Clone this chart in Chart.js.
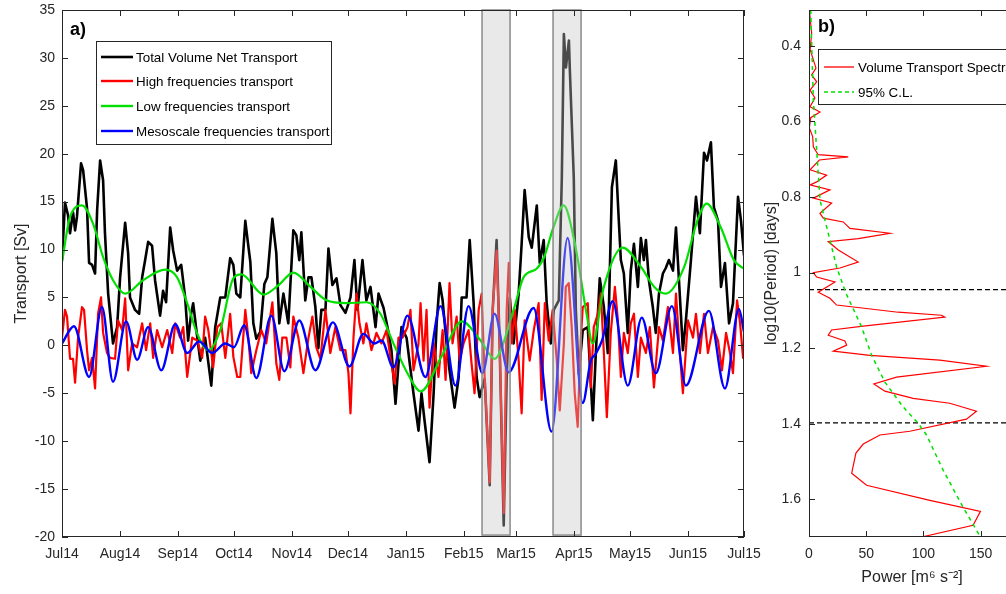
<!DOCTYPE html>
<html>
<head>
<meta charset="utf-8">
<script src="https://cdn.jsdelivr.net/npm/chart.js@4.4.1/dist/chart.umd.min.js"></script>
<style>
  body { margin: 0; background: #fff; overflow: hidden; font-family: "Liberation Sans", Arial, sans-serif; }
  #page { position: relative; width: 1006px; height: 594px; overflow: hidden; background: #fff; }
  .wrap { position: absolute; top: 0; height: 594px; }
  #wrapA { left: 0; width: 780px; }
  #wrapB { left: 750px; width: 290px; }
  .legend { position: absolute; background: #fff; border: 1px solid #262626; font-size: 13.4px; color: #000; z-index: 5; }
  .legend .row { position: absolute; left: 0; height: 20px; display: flex; align-items: center; white-space: nowrap; }
  .legend svg { display: block; }
  .tag { position: absolute; font-weight: bold; font-size: 18px; line-height: 18px; color: #000; z-index: 5; }
</style>
</head>
<body>
<div id="page">
  <div class="wrap" id="wrapA"><canvas id="chartA"></canvas></div>
  <div class="wrap" id="wrapB"><canvas id="chartB"></canvas></div>

  <div class="tag" style="left:70px; top:20px;">a)</div>
  <div class="tag" style="left:818px; top:17px;">b)</div>

  <div class="legend" style="left:96px; top:41px; width:234px; height:102px;">
    <div class="row" style="top:5px;"><svg width="36" height="6" style="margin-left:3px"><line x1="1" y1="3" x2="33" y2="3" stroke="#000" stroke-width="2.6"/></svg>Total Volume Net Transport</div>
    <div class="row" style="top:29px;"><svg width="36" height="6" style="margin-left:3px"><line x1="1" y1="3" x2="33" y2="3" stroke="#ff0000" stroke-width="2.4"/></svg>High frequencies transport</div>
    <div class="row" style="top:54px;"><svg width="36" height="6" style="margin-left:3px"><line x1="1" y1="3" x2="33" y2="3" stroke="#00e000" stroke-width="2.4"/></svg>Low frequencies transport</div>
    <div class="row" style="top:79px;"><svg width="36" height="6" style="margin-left:3px"><line x1="1" y1="3" x2="33" y2="3" stroke="#0000ff" stroke-width="2.4"/></svg>Mesoscale frequencies transport</div>
  </div>

  <div class="legend" style="left:818px; top:49px; width:230px; height:54px;">
    <div class="row" style="top:7px;"><svg width="35" height="6" style="margin-left:4px"><line x1="1" y1="3" x2="31" y2="3" stroke="#ff0000" stroke-width="1.3"/></svg>Volume Transport Spectra</div>
    <div class="row" style="top:32px;"><svg width="35" height="6" style="margin-left:4px"><line x1="1" y1="3" x2="31" y2="3" stroke="#00e000" stroke-width="1.5" stroke-dasharray="4 3"/></svg>95% C.L.</div>
  </div>
</div>

<script>
// dias contados a partir de 1 Jul 2014
const monthTicks = [0, 31, 62, 92, 123, 153, 184, 215, 243, 274, 304, 335, 365];
const monthLabels = ['Jul14', 'Aug14', 'Sep14', 'Oct14', 'Nov14', 'Dec14', 'Jan15', 'Feb15', 'Mar15', 'Apr15', 'May15', 'Jun15', 'Jul15'];

// janelas sombreadas (dias)
const eventStart = [224.8, 262.8];
const eventEnd = [239.8, 277.8];

// [dia, Sv]
const totalTransport = [[0,8.9],[1.6,14.9],[3.2,13.6],[4.3,11.7],[5.9,13.9],[7.0,12.0],[8.0,13.4],[10.2,19.0],[11.3,18.3],[13.4,14.3],[14.5,8.6],[16.1,8.4],[17.7,7.5],[18.8,14.1],[20.4,19.3],[22.0,17.2],[23.0,11.7],[24.7,5.4],[27.3,0.2],[29.5,1.9],[31.1,7.1],[33.8,12.8],[35.4,9.6],[36.4,5.0],[39.1,3.7],[41.3,3.3],[42.9,7.1],[44.5,8.9],[46.1,10.8],[48.2,10.4],[49.8,6.8],[52.5,3.1],[54.1,5.7],[55.7,4.5],[57.9,12.3],[59.5,9.9],[61.6,7.8],[63.8,8.4],[65.9,5.0],[67.5,0.5],[69.1,3.3],[70.2,4.4],[72.4,0.8],[74.0,-1.6],[76.6,0.8],[79.9,-4.2],[82.0,1.9],[84.7,5.0],[87.4,5.0],[90.0,9.1],[91.7,8.4],[93.3,5.4],[95.4,5.0],[98.1,13.0],[99.7,10.4],[100.8,8.7],[102.4,2.3],[104.0,0.7],[106.1,1.4],[108.3,6.4],[109.9,7.1],[112.6,13.2],[114.7,9.6],[116.3,2.3],[118.5,5.4],[121.1,2.3],[123.8,12.0],[125.4,11.5],[127.0,8.9],[128.1,11.8],[130.2,4.7],[131.9,7.1],[133.5,7.1],[135.6,4.0],[137.2,-0.3],[138.8,3.7],[141.0,3.7],[142.6,10.1],[144.7,6.3],[146.9,7.0],[149.0,4.2],[151.7,3.4],[154.4,5.0],[156.5,8.9],[158.1,3.7],[160.8,8.9],[162.9,4.7],[165.1,6.1],[167.8,1.9],[169.4,5.4],[172.1,3.9],[174.7,1.4],[176.3,-0.5],[178.5,-6.1],[180.1,-1.9],[181.7,1.9],[184.4,0.8],[188.1,-5.0],[190.8,-8.9],[192.4,-5.0],[194.0,-7.8],[196.7,-12.2],[198.9,-5.0],[200.5,2.3],[202.1,6.5],[203.7,4.7],[205.8,0.2],[207.4,-2.6],[210.1,-6.5],[212.3,-3.3],[213.9,5.0],[216.5,5.0],[218.2,11.0],[220.3,4.4],[221.9,-3.3],[223.5,-5.4],[226.2,-3.5],[228.9,-14.6],[230.5,3.7],[232.6,11.0],[234.2,0.2],[236.4,-18.8],[238.0,-3.3],[239.6,5.0],[241.7,0.2],[244.4,5.4],[246.0,10.6],[247.6,16.2],[249.8,11.3],[251.4,10.2],[254.1,14.6],[255.7,8.6],[257.8,11.0],[259.4,4.4],[261.6,0.2],[263.2,3.7],[265.9,4.7],[267.5,17.5],[268.6,32.5],[269.7,29.0],[271.3,31.8],[271.8,28.7],[273.9,17.5],[275.0,3.7],[276.6,-3.0],[278.7,1.6],[281.4,1.9],[284.1,-7.8],[285.7,-0.8],[287.8,7.0],[290.0,4.0],[292.1,-0.8],[294.3,16.5],[296.4,19.3],[298.0,13.0],[299.1,8.9],[300.7,7.5],[302.8,1.3],[304.4,7.8],[306.1,10.6],[308.2,6.1],[309.8,11.2],[311.4,8.9],[312.5,11.0],[314.1,6.8],[316.2,4.0],[317.8,1.3],[319.5,5.4],[321.6,7.5],[323.2,8.1],[324.8,8.9],[327.0,7.8],[328.6,12.3],[330.2,6.8],[332.3,-0.5],[333.9,2.6],[336.6,8.9],[339.3,15.5],[341.4,11.7],[343.6,20.1],[345.2,19.3],[347.3,21.2],[348.9,14.4],[351.1,13.0],[352.7,6.1],[354.8,8.6],[357.0,2.3],[359.1,4.4],[361.8,15.5],[363.4,13.0],[365.0,9.4]];

const highFreq = [[0,0.8],[1.6,3.7],[2.7,3.0],[4.3,-1.4],[5.9,-1.4],[7.0,-3.9],[8.6,0.8],[10.7,4.0],[11.8,3.7],[13.4,-0.5],[14.5,-2.6],[16.1,-1.3],[17.7,-4.5],[19.3,3.3],[20.9,5.0],[22.0,1.3],[24.1,-0.8],[25.7,-1.3],[28.4,-1.4],[30.0,2.6],[32.2,1.6],[33.8,4.9],[35.4,-2.6],[37.5,0.2],[40.2,-0.2],[42.9,2.3],[45.0,-0.5],[47.2,2.3],[48.8,-1.3],[50.9,1.6],[53.6,-0.2],[56.3,1.6],[59.0,-0.8],[60.6,2.3],[63.2,0.8],[64.9,1.9],[67.0,-3.3],[69.7,0.8],[72.4,0.5],[75.0,-1.3],[76.6,3.0],[78.3,1.6],[80.9,-2.3],[83.1,1.9],[85.2,2.3],[87.4,-1.3],[90.0,3.3],[91.7,-1.2],[93.8,-3.3],[95.4,-3.3],[98.1,3.7],[99.7,0.8],[101.3,-2.9],[104.0,-0.5],[106.7,1.6],[109.3,0.2],[112.6,4.5],[114.7,-1.9],[116.3,-3.6],[117.9,0.8],[120.1,0.8],[122.2,-2.3],[123.8,3.0],[126.5,0.8],[129.2,-2.9],[131.9,0.8],[134.0,3.0],[136.1,-0.2],[138.3,-1.4],[141.0,3.7],[143.6,-0.8],[146.3,1.9],[149.0,-0.5],[151.7,-0.5],[153.3,-2.9],[154.4,-7.1],[156.0,0.8],[157.6,5.4],[159.2,2.3],[161.3,0.2],[162.9,2.3],[165.6,-0.5],[168.3,1.3],[171.0,0.2],[173.7,1.6],[175.8,-1.3],[178.0,-4.0],[180.1,0.8],[182.2,0.8],[184.9,1.9],[186.5,3.7],[188.1,-2.6],[190.8,0.2],[191.9,4.4],[193.5,-1.6],[195.1,3.7],[196.7,-6.5],[198.9,0.2],[201.5,-3.3],[203.7,1.6],[205.3,-3.6],[207.4,6.5],[209.0,0.2],[211.2,3.0],[212.8,-1.6],[214.9,0.2],[217.6,1.6],[219.2,-1.9],[220.8,-5.0],[223.0,3.7],[224.6,5.4],[226.2,-3.3],[228.9,-14.3],[230.5,3.7],[232.6,9.9],[234.2,0.2],[236.4,-17.5],[238.0,3.7],[239.1,8.6],[240.7,0.2],[242.3,3.7],[244.4,-1.6],[246.0,-7.1],[247.6,2.6],[250.3,-1.6],[252.5,1.6],[255.1,4.4],[256.7,-5.7],[258.4,4.4],[260.5,0.5],[262.6,3.7],[264.8,-1.6],[266.4,-6.8],[268.6,0.2],[269.6,6.1],[271.2,6.5],[272.8,1.9],[274.4,-5.0],[276.0,-8.5],[277.6,0.5],[278.7,4.0],[281.4,4.4],[283.0,-4.4],[284.6,1.9],[286.8,3.3],[288.4,5.4],[290.0,-0.8],[291.6,-7.5],[293.7,1.3],[295.9,6.1],[297.5,2.6],[299.1,-3.3],[300.7,1.3],[302.8,-0.8],[304.4,2.3],[306.1,3.3],[308.2,-3.3],[309.8,0.8],[312.5,-0.8],[314.6,1.9],[316.8,-4.4],[319.5,1.9],[321.6,0.5],[324.3,4.0],[327.0,-0.8],[328.6,5.4],[330.2,0.5],[332.3,-5.0],[335.0,2.6],[337.7,0.8],[339.3,3.3],[341.4,-0.8],[343.6,3.3],[345.7,-0.8],[348.4,1.9],[351.1,0.5],[353.2,-2.6],[355.4,1.3],[357.5,-0.8],[359.1,-2.9],[361.3,4.7],[362.9,2.3],[364.5,-1.3],[365.5,-0.2]];

const lowFreq = [[0,8.7],[4.3,13.4],[10.7,14.6],[16.6,12.7],[22,9.2],[27.3,6.8],[33.8,5.4],[43.4,6.8],[55.2,7.9],[61.6,7.1],[67,4.4],[72.4,1.2],[78.3,-0.5],[84.7,1.6],[91.7,7.0],[96,7.4],[107.9,5.3],[116,6.3],[123.8,7.6],[133,6.1],[141.6,4.7],[152,4.4],[163,4.5],[170.4,3.3],[177.4,0.2],[185.4,-3.1],[192,-4.8],[203,-1.2],[214,2.5],[224,0.5],[231.5,-1.4],[241.7,3.7],[247,7.1],[254,8.0],[258,9.2],[263,12.3],[268.5,14.6],[274.5,10.6],[281,3.0],[284,0.2],[290,6.1],[300,10.2],[309.8,8.2],[317,6.1],[323,5.4],[333,8.2],[340,13.0],[345,14.8],[352.6,12.3],[359.6,8.9],[365,8.0]];

const mesoFreq = [[0,0.2],[6.4,2.0],[14.5,-3.3],[21.4,4.0],[27.3,-3.8],[34.3,2.5],[40.2,-1.5],[46.1,1.9],[53.1,-2.6],[60.6,2.2],[67.0,-0.8],[73.4,0.4],[80.4,-0.8],[87.4,0.2],[92,-0.2],[97.5,2.1],[104,-3.4],[112,3.1],[119,-2.7],[127,2.6],[135.6,-2.6],[145,2.4],[153.8,-2.2],[161.3,1.2],[167.2,0.2],[171,0.5],[177.4,-2.3],[184.9,3.1],[194.5,-3.3],[202.6,4.1],[210.6,-4.2],[217.6,4.1],[225,-2.9],[231.5,3.3],[239,-2.8],[252.4,3.9],[262,-9.0],[270.6,11.2],[278.7,-6.0],[283,-1.6],[285.6,-0.9],[289,0.5],[294.7,4.6],[302.8,-4.2],[310.3,2.9],[317.8,-2.9],[326.4,4.1],[333.9,-4.2],[346.2,3.6],[354.8,-4.5],[362.3,3.8],[365,1.4]];

// painel b: [log10(periodo), potencia]
const spectrum = [[0.305,0.3],[0.366,2.3],[0.41,1],[0.437,3.8],[0.459,6.1],[0.477,2.3],[0.495,6.7],[0.517,0.9],[0.538,5.2],[0.561,0.9],[0.575,9.6],[0.59,1.5],[0.617,0.3],[0.64,3.2],[0.667,3.8],[0.688,8],[0.694,34.3],[0.702,9],[0.728,0.9],[0.742,15.4],[0.76,6.7],[0.768,0.9],[0.781,18.3],[0.803,3.8],[0.816,19.8],[0.843,9.6],[0.856,12.5],[0.866,29.9],[0.883,35.8],[0.896,70.7],[0.91,43],[0.918,16.8],[0.94,25.6],[0.972,43],[0.988,27],[1.0,3.8],[1.012,6.7],[1.025,22.7],[1.052,8.1],[1.068,18.3],[1.086,24.1],[1.105,77.9],[1.113,115.8],[1.118,118.7],[1.142,47.4],[1.152,19.8],[1.166,16.8],[1.181,31.4],[1.192,32.9],[1.208,21.2],[1.219,53.2],[1.232,114.3],[1.248,155.0],[1.277,76.5],[1.295,56.7],[1.314,66.3],[1.333,91],[1.346,123],[1.367,146.3],[1.388,137.6],[1.42,88.1],[1.43,62],[1.454,47.4],[1.478,41],[1.531,37.3],[1.563,50.3],[1.603,105.6],[1.632,149.8],[1.669,143.4],[1.70,98.3]];
const confidence95 = [[0.305,1.5],[0.543,3.8],[0.675,6.7],[0.808,9.6],[0.896,16.8],[0.985,24.1],[1.055,32.3],[1.144,46],[1.219,54.7],[1.29,66.3],[1.356,82.3],[1.399,95.4],[1.43,102.7],[1.523,117.2],[1.621,134.6],[1.70,149.8]];
const periodCuts = [1.045, 1.398];

const periodTicks = [0.4, 0.6, 0.8, 1, 1.2, 1.4, 1.6];
const powerTicks = [0, 50, 100, 150];

Chart.defaults.font.family = '"Liberation Sans", Arial, sans-serif';
Chart.defaults.font.size = 14;
Chart.defaults.color = '#262626';

// moldura + ticks para dentro, estilo matlab
const framePlugin = {
    id: 'frame',
    afterDraw(chart) {
        const ctx = chart.ctx;
        const a = chart.chartArea;
        const xs = chart.scales.x, ys = chart.scales.y;
        ctx.save();
        ctx.strokeStyle = '#262626';
        ctx.lineWidth = 1;
        ctx.strokeRect(a.left + 0.5, a.top + 0.5, a.right - a.left - 1, a.bottom - a.top - 1);
        ctx.beginPath();
        xs.ticks.forEach(t => {
            const px = Math.round(xs.getPixelForValue(t.value)) + 0.5;
            ctx.moveTo(px, a.bottom); ctx.lineTo(px, a.bottom - 6);
            ctx.moveTo(px, a.top); ctx.lineTo(px, a.top + 6);
        });
        ys.ticks.forEach(t => {
            const py = Math.round(ys.getPixelForValue(t.value)) + 0.5;
            ctx.moveTo(a.left, py); ctx.lineTo(a.left + 6, py);
            ctx.moveTo(a.right, py); ctx.lineTo(a.right - 6, py);
        });
        ctx.stroke();
        ctx.restore();
    }
};

// caixas cinzas por cima das linhas
const shadePlugin = {
    id: 'shade',
    afterDatasetsDraw(chart) {
        const ctx = chart.ctx;
        const xs = chart.scales.x, ys = chart.scales.y;
        const yTop = ys.getPixelForValue(35);
        const yBot = ys.getPixelForValue(-19.8);
        ctx.save();
        for (let i = 0; i < eventStart.length; i++) {
            const x1 = xs.getPixelForValue(eventStart[i]);
            const x2 = xs.getPixelForValue(eventEnd[i]);
            ctx.fillStyle = 'rgba(197,197,197,0.38)';
            ctx.fillRect(x1, yTop, x2 - x1, yBot - yTop);
            ctx.strokeStyle = '#8a8a8a';
            ctx.lineWidth = 1.5;
            ctx.strokeRect(x1, yTop, x2 - x1, yBot - yTop);
        }
        ctx.restore();
    }
};

// tira o espaço extra que o chart.js reserva para os rótulos das pontas
function noEdgePad(s) {
    s.paddingTop = 0; s.paddingBottom = 0; s.paddingLeft = 0; s.paddingRight = 0;
}

function series(points, color, width, order, smooth) {
    return {
        data: points.map(p => ({ x: p[0], y: p[1] })),
        showLine: true,
        borderColor: color,
        borderWidth: width,
        pointRadius: 0,
        pointHoverRadius: 0,
        borderJoinStyle: 'round',
        cubicInterpolationMode: smooth ? 'monotone' : 'default',
        tension: 0,
        order: order
    };
}

const chartA = new Chart(document.getElementById('chartA'), {
    type: 'scatter',
    data: {
        datasets: [
            series(totalTransport, '#000000', 2.6, 4, false),
            series(highFreq, '#ff0000', 2.2, 3, false),
            series(lowFreq, '#00e000', 2.2, 2, true),
            series(mesoFreq, '#0000ff', 2.4, 1, true)
        ]
    },
    options: {
        responsive: true,
        maintainAspectRatio: false,
        animation: false,
        layout: { padding: { top: 10, right: 36, left: 0, bottom: 0 } },
        plugins: { legend: { display: false }, tooltip: { enabled: false } },
        scales: {
            x: {
                type: 'linear', min: 0, max: 365,
                grid: { display: false, drawTicks: false },
                border: { display: false },
                afterBuildTicks: s => { s.ticks = monthTicks.map(v => ({ value: v })); },
                ticks: {
                    autoSkip: false, maxRotation: 0, padding: 9,
                    callback: v => monthLabels[monthTicks.indexOf(v)]
                },
                afterFit: s => { s.height = 57; noEdgePad(s); }
            },
            y: {
                type: 'linear', min: -20, max: 35,
                grid: { display: false, drawTicks: false },
                border: { display: false },
                afterBuildTicks: s => {
                    const t = [];
                    for (let v = -20; v <= 35; v += 5) t.push({ value: v });
                    s.ticks = t;
                },
                ticks: { padding: 7 },
                title: { display: true, text: 'Transport [Sv]', font: { size: 16 }, padding: { top: 12, bottom: 0 } },
                afterFit: s => { s.width = 62; noEdgePad(s); }
            }
        }
    },
    plugins: [shadePlugin, framePlugin]
});

const cutSets = periodCuts.map(c => ({
    data: [{ x: 0, y: c }, { x: 180, y: c }],
    showLine: true, borderColor: '#000000', borderWidth: 1.3, borderDash: [5, 3],
    pointRadius: 0, pointHoverRadius: 0, order: 3
}));

const chartB = new Chart(document.getElementById('chartB'), {
    type: 'scatter',
    data: {
        datasets: [
            {
                data: spectrum.map(p => ({ x: p[1], y: p[0] })),
                showLine: true, borderColor: '#ff0000', borderWidth: 1.2,
                pointRadius: 0, pointHoverRadius: 0, order: 2
            },
            {
                data: confidence95.map(p => ({ x: p[1], y: p[0] })),
                showLine: true, borderColor: '#00e000', borderWidth: 1.5, borderDash: [4, 4],
                pointRadius: 0, pointHoverRadius: 0, order: 1
            }
        ].concat(cutSets)
    },
    options: {
        responsive: true,
        maintainAspectRatio: false,
        animation: false,
        layout: { padding: { top: 10, right: 25, left: 0, bottom: 0 } },
        plugins: { legend: { display: false }, tooltip: { enabled: false } },
        scales: {
            x: {
                type: 'linear', min: 0, max: 180,
                grid: { display: false, drawTicks: false },
                border: { display: false },
                afterBuildTicks: s => { s.ticks = powerTicks.map(v => ({ value: v })); },
                ticks: { autoSkip: false, maxRotation: 0, padding: 9 },
                title: { display: true, text: 'Power [m⁶ s⁻²]', font: { size: 16 }, padding: { top: 0, bottom: 6.4 } },
                afterFit: s => { s.height = 57; noEdgePad(s); }
            },
            y: {
                type: 'linear', min: 0.305, max: 1.70, reverse: true,
                grid: { display: false, drawTicks: false },
                border: { display: false },
                afterBuildTicks: s => { s.ticks = periodTicks.map(v => ({ value: v })); },
                ticks: { padding: 8, callback: v => String(+v.toFixed(1)) },
                title: { display: true, text: 'log10(Period) [days]', font: { size: 16 }, padding: { top: 12, bottom: 0 } },
                afterFit: s => { s.width = 59; noEdgePad(s); }
            }
        }
    },
    plugins: [framePlugin]
});
</script>
</body>
</html>
